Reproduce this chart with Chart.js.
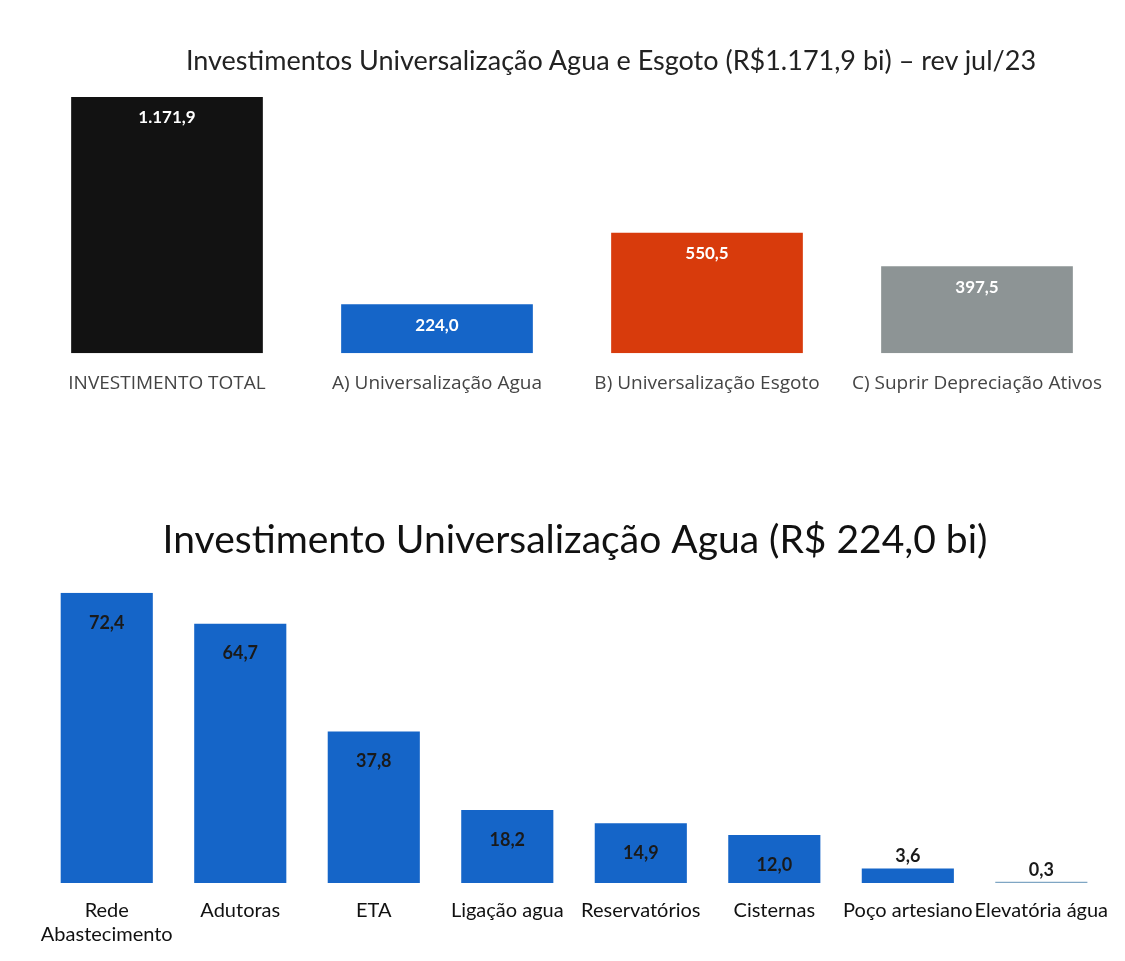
<!DOCTYPE html>
<html><head><meta charset="utf-8">
<script src="https://cdn.jsdelivr.net/npm/chart.js@4.4.0/dist/chart.umd.min.js"></script>
<style>
html,body{margin:0;padding:0;background:#fff;overflow:hidden;}
#w1{position:absolute;left:0;top:0;width:1125px;height:420px;}
#w2{position:absolute;left:0;top:470px;width:1125px;height:500px;}
#t1{position:absolute;left:311px;width:600px;top:44px;height:32px;line-height:32px;text-align:center;white-space:nowrap;
    font-family:Lato,sans-serif;font-size:27px;color:#222;display:flex;justify-content:center;}
</style></head><body>
<div id="w1"><canvas id="c1"></canvas></div>
<div id="w2"><canvas id="c2"></canvas></div>
<div id="t1"></div>
<script>
const topTitle = 'Investimentos Universalização Agua e Esgoto (R$1.171,9 bi) – rev jul/23';
const topCategories = ['INVESTIMENTO TOTAL','A) Universalização Agua','B) Universalização Esgoto','C) Suprir Depreciação Ativos'];
const topValues = [1171.9, 224.0, 550.5, 397.5];
const topColors = ['#121212','#1565c8','#d83b0c','#8d9495'];

const bottomTitle = 'Investimento Universalização Agua (R$ 224,0 bi)';
const bottomCategories = [['Rede','Abastecimento'],'Adutoras','ETA','Ligação agua','Reservatórios','Cisternas','Poço artesiano','Elevatória água'];
const bottomValues = [72.4, 64.7, 37.8, 18.2, 14.9, 12.0, 3.6, 0.3];
const bottomColors = ['#1565c8','#1565c8','#1565c8','#1565c8','#1565c8','#1565c8','#1565c8','#7fa6c4'];

document.getElementById('t1').textContent = topTitle;

function fmt(v){
  const parts = v.toFixed(1).split('.');
  const int = parts[0].replace(/\B(?=(\d{3})+(?!\d))/g,'.');
  return int + ',' + parts[1];
}

const labelPlugin = {
  id:'valLabels',
  afterDatasetsDraw(chart, args, opts){
    const ctx = chart.ctx;
    const meta = chart.getDatasetMeta(0);
    const data = chart.data.datasets[0].data;
    ctx.save();
    ctx.textAlign='center';
    ctx.textBaseline='middle';
    ctx.font = opts.font;
    meta.data.forEach((bar,i)=>{
      const v = data[i];
      const h = bar.base - bar.y;
      let y;
      if (h > opts.minInside) { y = bar.y + opts.inside; ctx.fillStyle = opts.color; }
      else { y = bar.y - opts.outside; ctx.fillStyle = opts.outsideColor || opts.color; }
      ctx.fillText(fmt(v), bar.x, y);
    });
    ctx.restore();
  }
};

Chart.register(labelPlugin);

new Chart(document.getElementById('c1'), {
  type:'bar',
  data:{labels:topCategories, datasets:[{data:topValues, backgroundColor:topColors, barPercentage:0.71, categoryPercentage:1.0}]},
  options:{
    responsive:true, maintainAspectRatio:false, animation:false,
    layout:{padding:{left:32,right:13,top:97,bottom:6}},
    plugins:{
      legend:{display:false}, tooltip:{enabled:false},
      title:{display:false},
      valLabels:{font:'bold 17px Lato', color:'#ffffff', inside:21, minInside:30, outside:12}
    },
    scales:{
      x:{grid:{display:false, drawTicks:false}, border:{display:false},
         ticks:{color:'#444', font:{family:'Open Sans', size:19}, padding:19, maxRotation:0, autoSkip:false}},
      y:{display:false, min:0, max:1171.9}
    }
  }
});

new Chart(document.getElementById('c2'), {
  type:'bar',
  data:{labels:bottomCategories, datasets:[{data:bottomValues, backgroundColor:bottomColors, barPercentage:0.69, categoryPercentage:1.0}]},
  options:{
    responsive:true, maintainAspectRatio:false, animation:false,
    layout:{padding:{left:40,right:15,top:0,bottom:7}},
    plugins:{
      legend:{display:false}, tooltip:{enabled:false},
      title:{display:true, text:bottomTitle, color:'#111', font:{family:'Lato', size:39, weight:'normal'}, padding:{top:47,bottom:29}},
      valLabels:{font:'bold 18px Lato', color:'#1a1a1a', inside:30, minInside:40, outside:12}
    },
    scales:{
      x:{grid:{display:false, drawTicks:false}, border:{display:false},
         ticks:{color:'#111', font:{family:'Lato', size:20}, padding:16, maxRotation:0, autoSkip:false}},
      y:{display:false, min:0, max:72.4}
    }
  }
});
</script>
</body></html>
